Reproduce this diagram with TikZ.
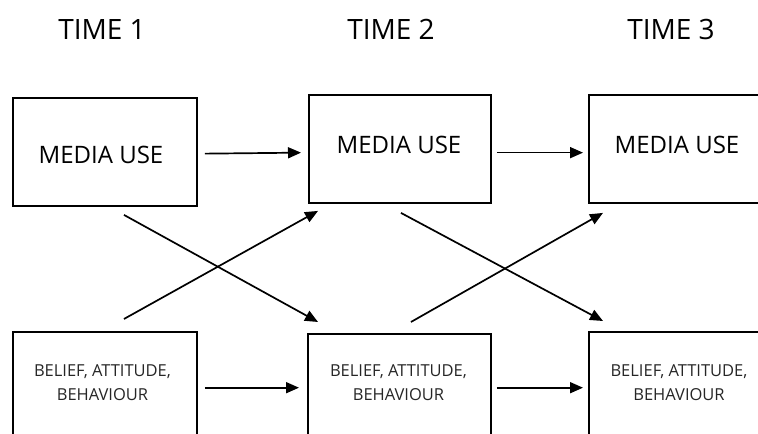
\documentclass[tikz,border=0pt]{standalone}
\usepackage{fontspec}
\setmainfont{Open Sans}
\usetikzlibrary{arrows.meta,calc}
\begin{document}
\begin{tikzpicture}[x=1bp,y=-1bp,
  box/.style={draw=black,line width=1.9bp,rectangle,inner sep=0pt,anchor=north west},
  topbox/.style={box,minimum height=108bp},
  lowbox/.style={box,minimum height=114bp},
  title/.style={font=\fontsize{28bp}{32bp}\selectfont,anchor=base,inner sep=0pt},
  media/.style={font=\fontsize{24bp}{28bp}\selectfont,anchor=base,inner sep=0pt},
  belief/.style={font=\fontsize{16.5bp}{23.5bp}\selectfont,align=center,anchor=base,inner sep=0pt,text=black!85},
  arr/.style={line width=1.7bp,-{Triangle[length=13bp,width=11bp]}}]
\useasboundingbox (0,0) rectangle (758,434);
\clip (0,0) rectangle (758,434);

% column headings
\node[title] (t1) at (102,40) {TIME 1};
\node[title] (t2) at (391,40) {TIME 2};
\node[title] (t3) at (671,40) {TIME 3};

% media use boxes
\node[topbox,minimum width=184bp] (m1) at (12,97) {};
\node[topbox,minimum width=182bp] (m2) at (308,94) {};
\node[topbox,minimum width=190bp] (m3) at (588,94) {};
\node[media] (m1t) at (101,163.3) {MEDIA USE};
\node[media] (m2t) at (399,154) {MEDIA USE};
\node[media] (m3t) at (677,154) {MEDIA USE};

% belief / attitude / behaviour boxes (base anchor sits on the last line)
\node[lowbox,minimum width=184bp] (b1) at (12,331) {};
\node[lowbox,minimum width=183bp] (b2) at (307,333) {};
\node[lowbox,minimum width=190bp] (b3) at (588,331) {};
\node[belief] (b1t) at (102.5,400) {BELIEF, ATTITUDE,\\BEHAVIOUR};
\node[belief] (b2t) at (398.5,400) {BELIEF, ATTITUDE,\\BEHAVIOUR};
\node[belief] (b3t) at (679,400) {BELIEF, ATTITUDE,\\BEHAVIOUR};

% stability paths
\draw[arr] ($(m1.east)+(7,1.7)$) -- ($(m2.west)+(-7,3.7)$);
\draw[arr] ($(m2.east)+(5,3.7)$) -- ($(m3.west)+(-5,3.7)$);
\draw[arr] ($(b1.north east)+(7,56.7)$) -- ($(b2.north west)+(-8,54.7)$);
\draw[arr] ($(b2.north east)+(5,54.7)$) -- ($(b3.north west)+(-5,56.7)$);

% cross-lagged paths
\draw[arr] ($(m1.south)+(19,8)$) -- ($(b2.north west)+(11,-11)$);
\draw[arr] ($(b1.north)+(19,-12)$) -- ($(m2.south west)+(10,7)$);
\draw[arr] ($(m2.south)+(1,9)$) -- ($(b3.north west)+(15,-10)$);
\draw[arr] ($(b2.north)+(11.5,-11)$) -- ($(m3.south west)+(15,9)$);
\end{tikzpicture}
\end{document}
